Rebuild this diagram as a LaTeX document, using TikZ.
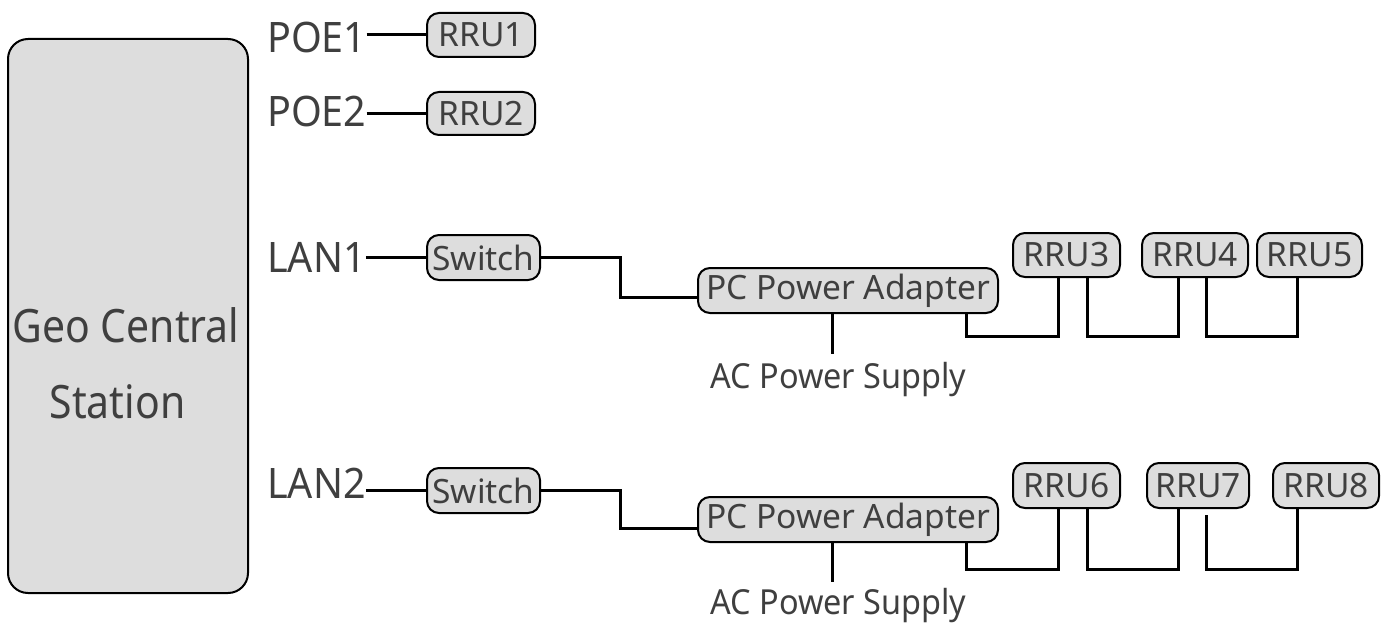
\documentclass[tikz,border=0pt]{standalone}
\usepackage{fontspec}
\setmainfont[FakeStretch=0.94]{Noto Sans}
\newfontfamily\boxfont{Noto Sans}
\newfontfamily\geofont[FakeStretch=0.89]{Noto Sans}
\definecolor{boxfill}{HTML}{DDDDDD}
\definecolor{txt}{HTML}{3F3F3F}
\tikzset{
  box/.style={draw=black, line width=2pt, fill=boxfill, rounded corners=12pt,
    inner sep=0pt, text=txt, font=\boxfont\fontsize{33.5}{33.5}\selectfont, anchor=center,
    minimum height=44pt},
  lbl/.style={inner sep=0pt, text=txt, font=\fontsize{42}{42}\selectfont, anchor=base west},
  actext/.style={inner sep=0pt, text=txt, font=\fontsize{34.5}{34.5}\selectfont, anchor=base},
  geotext/.style={inner sep=0pt, text=txt, font=\geofont\fontsize{46}{46}\selectfont, anchor=base},
  conn/.style={line width=3pt, black}
}
\begin{document}
\begin{tikzpicture}[x=1pt,y=-1pt]
\useasboundingbox (0,0) rectangle (1392,623);

% central station
\node[box, rounded corners=20pt, minimum width=240pt, minimum height=554pt] (geo) at (128,316) {};
\node[geotext] (geot1) at (126,342) {Geo Central};
\node[geotext] (geot2) at (117.5,418) {Station};

% port labels
\node[lbl] (poe1) at (267,53) {POE1};
\node[lbl] (poe2) at (267,127) {POE2};
\node[lbl] (lan1) at (267,272) {LAN1};
\node[lbl] (lan2) at (267,498) {LAN2};

% boxes
\node[box, minimum width=108pt] (rru1) at (481,35) {RRU1};
\node[box, minimum width=108pt, minimum height=43pt] (rru2) at (481,113.5) {RRU2};
\node[box, minimum width=113pt, minimum height=45pt] (sw1) at (483.5,257.5) {Switch};
\node[box, minimum width=113pt, minimum height=45pt] (sw2) at (483.5,490.5) {Switch};
\node[box, minimum width=300pt, minimum height=45pt] (pc1) at (848,290.5) {PC Power Adapter};
\node[box, minimum width=300pt, minimum height=45pt] (pc2) at (848,519.5) {PC Power Adapter};
\node[box, minimum width=107pt] (rru3) at (1066.5,255) {RRU3};
\node[box, minimum width=106pt] (rru4) at (1195,255) {RRU4};
\node[box, minimum width=105pt] (rru5) at (1309.5,255) {RRU5};
\node[box, minimum width=107pt, minimum height=45pt] (rru6) at (1066.5,485.5) {RRU6};
\node[box, minimum width=102pt, minimum height=45pt] (rru7) at (1198,485.5) {RRU7};
\node[box, minimum width=106pt, minimum height=45pt] (rru8) at (1326,485.5) {RRU8};

\node[actext] (ac1) at (838.5,388) {AC Power Supply};
\node[actext] (ac2) at (838.5,614) {AC Power Supply};

% connectors
\draw[conn] (poe1.east |- rru1.west) -- (rru1.west);
\draw[conn] (poe2.east |- rru2.west) -- (rru2.west);
\draw[conn] (lan1.east |- sw1.west) -- (sw1.west);
\draw[conn] (lan2.east |- sw2.west) -- (sw2.west);

\draw[conn] (sw1.east) -- ++(79,0) |- ([yshift=-7pt]pc1.west);
\draw[conn] (sw2.east) -- ++(79,0) |- ([yshift=-9pt]pc2.west);

\draw[conn] ([xshift=-16pt]pc1.south) -- ([xshift=-16pt,yshift=8pt]pc1.south |- ac1.north);
\draw[conn] ([xshift=-16pt]pc2.south) -- ([xshift=-16pt,yshift=6pt]pc2.south |- ac2.north);

\draw[conn] ([xshift=118pt]pc1.south) -- ++(0,22) -| ([xshift=-8.5pt]rru3.south);
\draw[conn] ([xshift=20.5pt]rru3.south) -- ++(0,58) -| ([xshift=-17pt]rru4.south);
\draw[conn] ([xshift=11pt]rru4.south) -- ++(0,58) -| ([xshift=-12.5pt]rru5.south);

\draw[conn] ([xshift=118pt]pc2.south) -- ++(0,26) -| ([xshift=-8.5pt]rru6.south);
\draw[conn] ([xshift=20.5pt]rru6.south) -- ++(0,60) -| ([xshift=-20pt]rru7.south);
\draw[conn] ([xshift=8pt,yshift=-6pt]rru7.south) -- ++(0,54) -| ([xshift=-29pt]rru8.south);
\end{tikzpicture}
\end{document}
